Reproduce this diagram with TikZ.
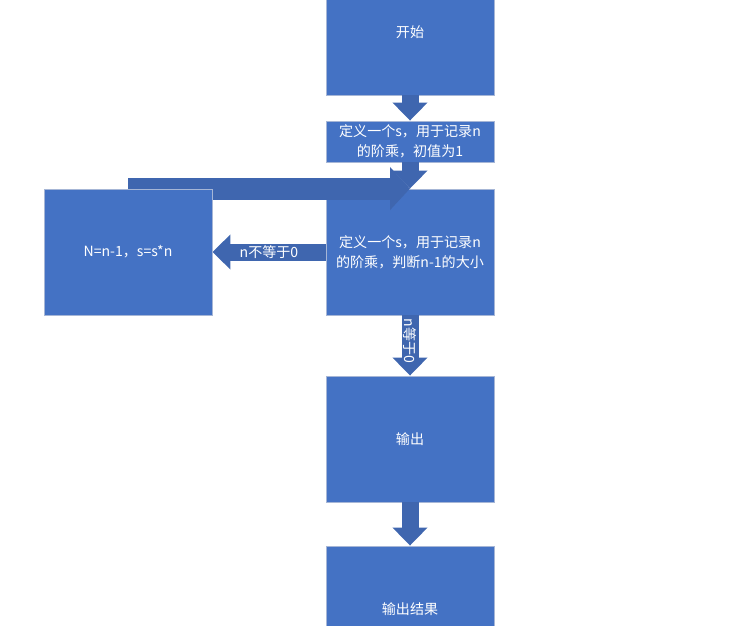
\documentclass[tikz,border=0pt]{standalone}
\usepackage{fontspec}
\setmainfont{Noto Sans CJK SC}
\usetikzlibrary{arrows.meta, positioning}
\definecolor{boxblue}{HTML}{4472C4}
\definecolor{arrowblue}{HTML}{3F66AF}
\definecolor{edgegray}{HTML}{A6B6D6}
\pgfdeclarelayer{front}
\pgfsetlayers{main,front}

\tikzset{
  box/.style={draw=edgegray, line width=0.6pt, fill=boxblue, text=white,
              minimum width=4.2cm, minimum height=3.15cm, inner sep=2pt,
              align=center, font=\fontsize{10}{14.5}\selectfont},
  flowarrow/.style={draw=arrowblue, line width=0.425cm,
              -{Triangle[width=0.85cm, length=0.45cm]}},
  bigarrow/.style={draw=arrowblue, line width=0.55cm,
              -{Triangle[width=1.05cm, length=0.5cm]}},
  lbl/.style={text=white, font=\fontsize{10}{12}\selectfont, inner sep=1pt}
}

\begin{document}
\begin{tikzpicture}[x=0.025cm, y=-0.025cm]
  \clip (0,0) rectangle (735,625);

  % main column
  \node[box] (start) at (410,32) {开始};
  \node[box, minimum height=1.025cm] (init) at (410,141.5)
       {定义一个s，用于记录n\\的阶乘，初值为1};
  \node[box] (judge) at (410,252)
       {定义一个s，用于记录n\\的阶乘，判断n-1的大小};
  \node[box] (out) at (410,439) {输出};
  \node[box] (res) at (410,609) {输出结果};

  % loop body, kept above the back arrow
  \begin{pgfonlayer}{front}
    \node[box] (lbox) at (128,252) {N=n-1，s=s*n};
  \end{pgfonlayer}

  % arrows
  \draw[flowarrow] (start.south) -- (init.north);
  \draw[flowarrow] (init.south) -- (judge.north);
  \draw[flowarrow] (judge.south) -- (out.north)
       node[lbl, rotate=-90, pos=0.42] {n等于0};
  \draw[flowarrow] (out.south) -- (res.north);
  \draw[flowarrow] (judge.west) -- (lbox.east)
       node[lbl, pos=0.5] {n不等于0};
  \draw[bigarrow] (lbox.north) -- (judge.north);

\end{tikzpicture}
\end{document}
